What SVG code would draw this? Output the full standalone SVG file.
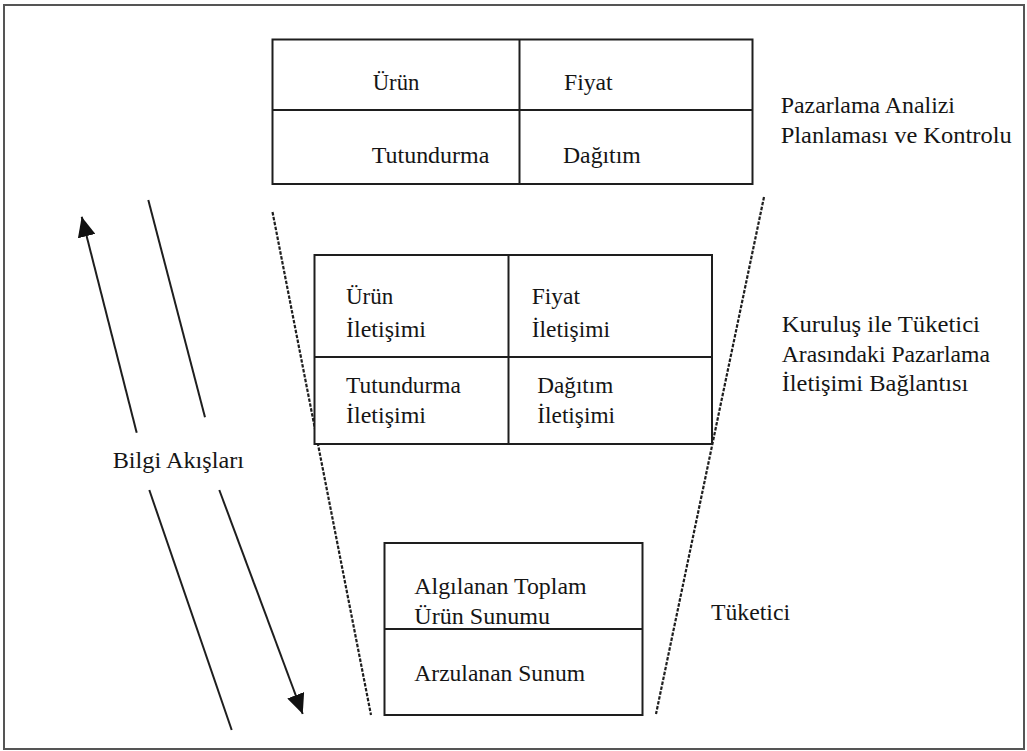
<svg xmlns="http://www.w3.org/2000/svg" width="1027" height="751" viewBox="0 0 1027 751">
  <style>
    .frame { fill: #ffffff; stroke: #555555; stroke-width: 2; }
    .box { fill: #ffffff; stroke: #1e1e1e; stroke-width: 2; }
    .rule { stroke: #1e1e1e; stroke-width: 2; fill: none; }
    .flow { stroke: #1e1e1e; stroke-width: 2; fill: none; }
    .funnel { stroke: #1e1e1e; stroke-width: 2.2; fill: none; stroke-dasharray: 3.5 1.5; }
    text { font-family: "Liberation Serif", "Times New Roman", serif; font-size: 23px; fill: #151515; }
  </style>
  <defs>
    <marker id="head" markerUnits="userSpaceOnUse" markerWidth="20" markerHeight="18" refX="20" refY="9" orient="auto">
      <path d="M0,0 L20,9 L0,18 Z" fill="#111111"/>
    </marker>
  </defs>

  <!-- page frame -->
  <rect class="frame" x="4" y="5" width="1020" height="744"/>

  <!-- funnel outline and information flows -->
  <g id="connectors">
    <line class="funnel" x1="272.5" y1="212" x2="371" y2="715"/>
    <line class="funnel" x1="764" y1="197" x2="656" y2="714"/>
    <line class="flow" x1="136.7" y1="432.7" x2="81.7" y2="216.7" marker-end="url(#head)"/>
    <line class="flow" x1="148.3" y1="200" x2="205" y2="417.3"/>
    <line class="flow" x1="149.3" y1="490" x2="231.7" y2="730"/>
    <line class="flow" x1="219.3" y1="490" x2="302.7" y2="714" marker-end="url(#head)"/>
  </g>

  <!-- marketing mix -->
  <g id="marketing-mix">
    <rect class="box" x="272.5" y="39.5" width="480" height="144.5"/>
    <line class="rule" x1="272.5" y1="110" x2="752.5" y2="110"/>
    <line class="rule" x1="519.5" y1="39.5" x2="519.5" y2="184"/>
    <text x="372.7" y="90" textLength="46.7" lengthAdjust="spacingAndGlyphs">Ürün</text>
    <text x="564" y="90" textLength="48.7" lengthAdjust="spacingAndGlyphs">Fiyat</text>
    <text x="371.7" y="163" textLength="117.7" lengthAdjust="spacingAndGlyphs">Tutundurma</text>
    <text x="563" y="163" textLength="77.7" lengthAdjust="spacingAndGlyphs">Dağıtım</text>
  </g>

  <!-- communication mix -->
  <g id="communication-mix">
    <rect class="box" x="314.5" y="255" width="397.5" height="189"/>
    <line class="rule" x1="314.5" y1="357" x2="712" y2="357"/>
    <line class="rule" x1="508.5" y1="255" x2="508.5" y2="444"/>
    <text x="346" y="304.3" textLength="47.3" lengthAdjust="spacingAndGlyphs">Ürün</text>
    <text x="346" y="336.7" textLength="80" lengthAdjust="spacingAndGlyphs">İletişimi</text>
    <text x="531.7" y="304.3" textLength="48.3" lengthAdjust="spacingAndGlyphs">Fiyat</text>
    <text x="531.7" y="336.7" textLength="78.3" lengthAdjust="spacingAndGlyphs">İletişimi</text>
    <text x="346" y="393.3" textLength="115" lengthAdjust="spacingAndGlyphs">Tutundurma</text>
    <text x="346" y="423.3" textLength="80" lengthAdjust="spacingAndGlyphs">İletişimi</text>
    <text x="537.3" y="393.3" textLength="76" lengthAdjust="spacingAndGlyphs">Dağıtım</text>
    <text x="537.3" y="423.3" textLength="77.7" lengthAdjust="spacingAndGlyphs">İletişimi</text>
  </g>

  <!-- consumer offer -->
  <g id="consumer-offer">
    <rect class="box" x="384.5" y="543" width="258" height="172"/>
    <line class="rule" x1="384.5" y1="629" x2="642.5" y2="629"/>
    <text x="414.3" y="594.3" textLength="172.3" lengthAdjust="spacingAndGlyphs">Algılanan Toplam</text>
    <text x="414.3" y="624.3" textLength="135.7" lengthAdjust="spacingAndGlyphs">Ürün Sunumu</text>
    <text x="414.3" y="680.7" textLength="170.7" lengthAdjust="spacingAndGlyphs">Arzulanan Sunum</text>
  </g>

  <!-- level captions -->
  <g id="caption-analysis">
    <text x="780.7" y="113.3" textLength="174.3" lengthAdjust="spacingAndGlyphs">Pazarlama Analizi</text>
    <text x="780.7" y="143.3" textLength="231" lengthAdjust="spacingAndGlyphs">Planlaması ve Kontrolu</text>
  </g>
  <g id="caption-link">
    <text x="781.7" y="331.7" textLength="198.3" lengthAdjust="spacingAndGlyphs">Kuruluş ile Tüketici</text>
    <text x="781.7" y="361.7" textLength="208.3" lengthAdjust="spacingAndGlyphs">Arasındaki Pazarlama</text>
    <text x="781.7" y="390.7" textLength="186.7" lengthAdjust="spacingAndGlyphs">İletişimi Bağlantısı</text>
  </g>
  <g id="caption-consumer">
    <text x="711" y="620" textLength="79" lengthAdjust="spacingAndGlyphs">Tüketici</text>
  </g>
  <g id="caption-flows">
    <text x="112.7" y="468.3" textLength="131.3" lengthAdjust="spacingAndGlyphs">Bilgi Akışları</text>
  </g>
</svg>
